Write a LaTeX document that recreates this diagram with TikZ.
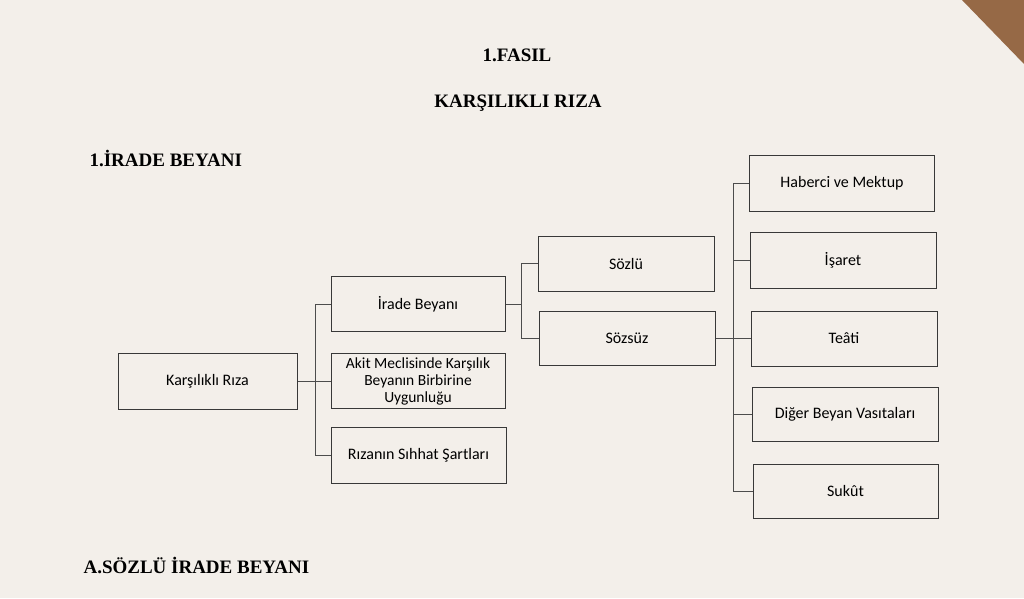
\documentclass[tikz,border=0pt]{standalone}
\usepackage{fontspec}
\setmainfont{Liberation Serif}
\newfontfamily\boxfont{Carlito}
\begin{document}
\begin{tikzpicture}[x=1pt,y=-1pt,
  box/.style={draw=black!78, line width=1pt, fill=none, align=center, inner sep=2pt,
    font=\boxfont\fontsize{16}{17}\selectfont, text=black},
  conn/.style={draw=black!70, line width=0.9pt},
  head/.style={font=\bfseries\fontsize{19}{22}\selectfont, text=black}]
\definecolor{paper}{RGB}{243,239,234}
\definecolor{wood}{RGB}{150,105,70}
\fill[paper] (0,0) rectangle (1024,598);
\fill[wood] (962,0) -- (1024,0) -- (1024,64) -- cycle;
\useasboundingbox (0,0) rectangle (1024,598);

% headings
\node[head] (t1) at (517,55) {1.FASIL};
\node[head] (t2) at (518,103) {KARŞILIKLI RIZA};
\node[head, anchor=west] (t3) at (86,158) {1.İRADE BEYANI};
\node[head, anchor=west] (t4) at (80,565) {A.SÖZLÜ İRADE BEYANI};

% level 0
\node[box, minimum width=179pt, minimum height=56pt] (kr) at (207.5,381) {Karşılıklı Rıza};
% level 1
\node[box, minimum width=174pt, minimum height=55pt] (ib) at (418,304) {İrade Beyanı};
\node[box, minimum width=174pt, minimum height=55pt, font=\boxfont\fontsize{15.5}{17}\selectfont] (ak) at (418,381) {Akit Meclisinde Karşılık\\Beyanın Birbirine\\Uygunluğu};
\node[box, minimum width=175pt, minimum height=56pt] (rs) at (418.5,455) {Rızanın Sıhhat Şartları};
% level 2
\node[box, minimum width=176pt, minimum height=55pt] (sl) at (626,263.5) {Sözlü};
\node[box, minimum width=176pt, minimum height=54pt] (ss) at (627,338.5) {Sözsüz};
% level 3
\node[box, minimum width=185pt, minimum height=56pt] (hm) at (842,183) {Haberci ve Mektup};
\node[box, minimum width=186pt, minimum height=56pt] (is) at (843,260) {İşaret};
\node[box, minimum width=186pt, minimum height=55pt] (te) at (844,338.5) {Teâti};
\node[box, minimum width=186pt, minimum height=54pt] (db) at (845,414) {Diğer Beyan Vasıtaları};
\node[box, minimum width=185pt, minimum height=54pt] (su) at (845.5,491) {Sukût};

% trunks
\coordinate (tr1) at (315,0);
\coordinate (tr2) at (521,0);
\coordinate (tr3) at (733,0);

\draw[conn] (kr.east) -- (kr.east -| tr1);
\draw[conn] (ib.west) -- (ib.west -| tr1) -- (rs.west -| tr1) -- (rs.west);
\draw[conn] (ak.west) -- (ak.west -| tr1);

\draw[conn] (ib.east) -- (ib.east -| tr2);
\draw[conn] (sl.west) -- (sl.west -| tr2) -- (ss.west -| tr2) -- (ss.west);

\draw[conn] (ss.east) -- (te.west);
\draw[conn] (hm.west) -- (hm.west -| tr3) -- (su.west -| tr3) -- (su.west);
\draw[conn] (is.west) -- (is.west -| tr3);
\draw[conn] (db.west) -- (db.west -| tr3);
\end{tikzpicture}
\end{document}
